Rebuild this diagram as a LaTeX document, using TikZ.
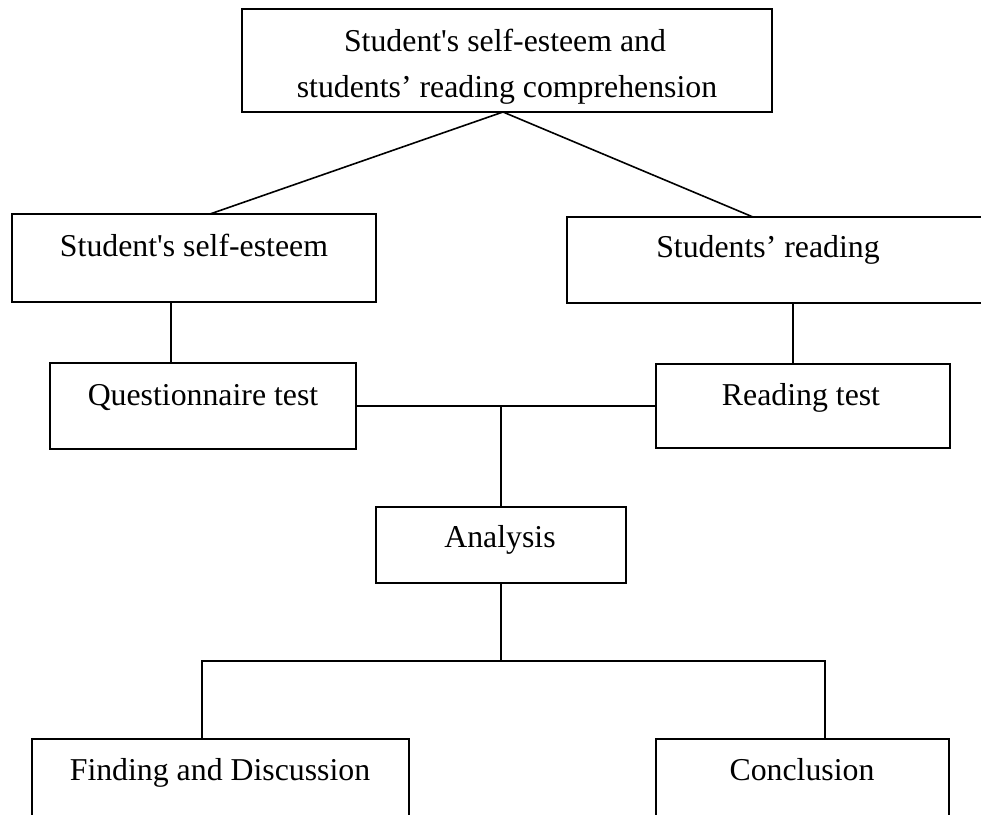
\documentclass[tikz,border=0pt]{standalone}
\usepackage{fontspec}
\setmainfont{Liberation Serif}
\usetikzlibrary{calc}
\begin{document}
\begin{tikzpicture}[x=1pt,y=-1pt,
  box/.style={draw, line width=1.6pt, rectangle, inner sep=0pt, outer sep=0pt},
  lbl/.style={inner sep=0pt, anchor=base, font=\fontsize{31.8}{38}\selectfont},
  conn/.style={line width=1.6pt}]
\clip (0,0) rectangle (981,814);
\useasboundingbox (0,0) rectangle (981,814);
\fill[white] (0,0) rectangle (981,814);
% boxes
\node[box, minimum width=530, minimum height=103] (T) at (507,60.5) {};
\node[box, minimum width=364, minimum height=88] (L) at (194,258) {};
\node[box, minimum width=500, minimum height=86] (R) at (817,260) {};
\node[box, minimum width=306, minimum height=86] (Q) at (203,406) {};
\node[box, minimum width=294, minimum height=84] (RT) at (803,406) {};
\node[box, minimum width=250, minimum height=76] (A) at (501,545) {};
\node[box, minimum width=377, minimum height=161] (F) at (220.5,819.5) {};
\node[box, minimum width=293, minimum height=161] (C) at (802.5,819.5) {};
% texts
\node[lbl] (t1a) at (505,51) {Student\textquotesingle s self-esteem and};
\node[lbl] (t1b) at (507,97) {students’ reading comprehension};
\node[lbl] (tL) at (194,256) {Student\textquotesingle s self-esteem};
\node[lbl] (tR) at (768,257) {Students’ reading};
\node[lbl] (tQ) at (203,405) {Questionnaire test};
\node[lbl] (tRT) at (801,405) {Reading test};
\node[lbl] (tA) at (500,547) {Analysis};
\node[lbl] (tF) at (220,780) {Finding and Discussion};
\node[lbl] (tC) at (802,780) {Conclusion};
% connectors
\draw[conn] ([xshift=-4pt]T.south) -- ([xshift=16pt]L.north);
\draw[conn] ([xshift=-4pt]T.south) -- ([xshift=186pt]R.north west);
\draw[conn] ([xshift=-23pt]L.south) -- ([xshift=-23pt]L.south |- Q.north);
\draw[conn] ([xshift=-24pt]R.south) -- ([xshift=-24pt]R.south |- RT.north);
\draw[conn] (Q.east) -- (Q.east -| RT.west);
\coordinate (junc) at (A.north |- Q.east);
\draw[conn] (junc) -- (A.north);
\coordinate (hub) at ($(A.south)+(0,78)$);
\draw[conn] (A.south) -- (hub);
\draw[conn] ([xshift=-18.5pt]F.north) |- (hub) -| ([xshift=22.5pt]C.north);
\end{tikzpicture}
\end{document}
